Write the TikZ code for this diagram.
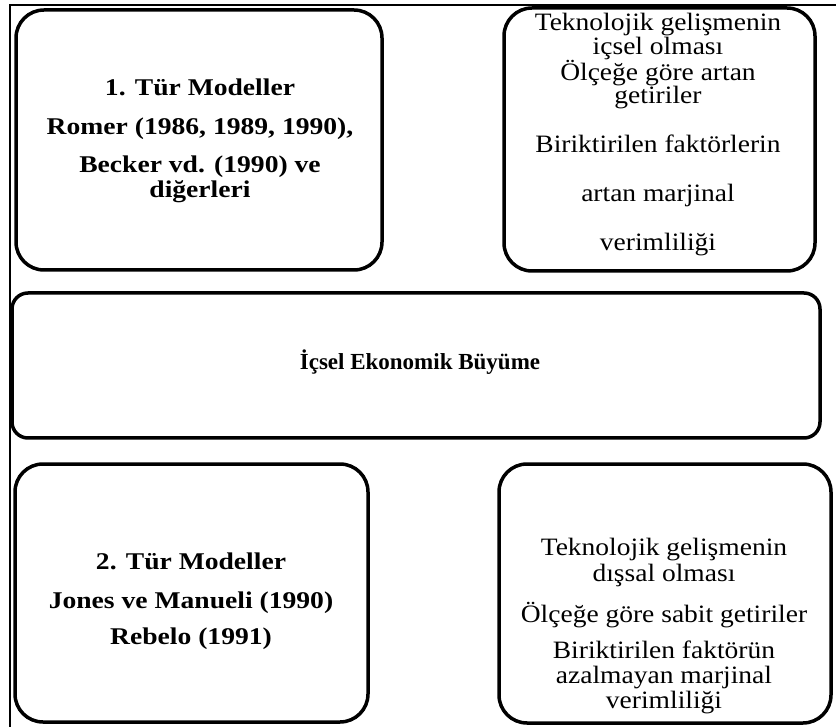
\documentclass[tikz,border=0pt]{standalone}
\usepackage{fontspec}
\newfontfamily\bodyserif{Liberation Serif}[FakeStretch=1.1]
\newfontfamily\headserif{Liberation Serif}[FakeStretch=1.15]
\newfontfamily\midserif{Liberation Serif}[FakeStretch=1.0]

\tikzset{
  frame/.style={line width=2pt, draw=black},
  panel/.style={draw=black, line width=3.5pt, rounded corners=28pt, inner sep=0pt},
  widepanel/.style={panel, rounded corners=16pt},
  % multi-line texts are placed by the baseline of their last line
  headtext/.style={inner sep=0pt, anchor=base, align=center,
    font=\headserif\bfseries\fontsize{24}{25}\selectfont},
  bodytext/.style={inner sep=0pt, anchor=base, align=center,
    font=\bodyserif\fontsize{25}{23}\selectfont},
  midtext/.style={inner sep=0pt, anchor=base, align=center,
    font=\midserif\bfseries\fontsize{23}{24}\selectfont},
}

\begin{document}
\begin{tikzpicture}[x=1pt, y=-1pt]
  \useasboundingbox (0,0) rectangle (836,727);

  % outer frame (left and top edges)
  \draw[frame] (10,727) -- (10,5) -- (836,5);

  % panels
  \node[panel, minimum width=366pt, minimum height=260pt] (typeone) at (199,140) {};
  \node[panel, minimum width=311pt, minimum height=263pt] (typeonefeat) at (659.5,139.5) {};
  \node[widepanel, minimum width=808pt, minimum height=145pt] (growth) at (416,365.5) {};
  \node[panel, minimum width=353pt, minimum height=258pt] (typetwo) at (191.5,593) {};
  \node[panel, minimum width=332pt, minimum height=259pt] (typetwofeat) at (665,593.5) {};

  % texts
  \node[headtext] (typeonetext) at (200,198)
    {1. Tür Modeller\\[14pt]Romer (1986, 1989, 1990),\\[13pt]Becker vd. (1990) ve\\diğerleri};
  \node[bodytext] (typeonefeattext) at (658,251)
    {Teknolojik gelişmenin\\[1pt]içsel olması\\Ölçeğe göre artan\\getiriler\\[26pt]Biriktirilen faktörlerin\\[26pt]artan marjinal\\[26pt]verimliliği};
  \node[midtext] (growthtext) at (420,370) {İçsel Ekonomik Büyüme};
  \node[headtext] (typetwotext) at (191,644)
    {2. Tür Modeller\\[14pt]Jones ve Manueli (1990)\\[11pt]Rebelo (1991)};
  \node[bodytext, font=\bodyserif\fontsize{25}{25}\selectfont] (typetwofeattext) at (664,708)
    {Teknolojik gelişmenin\\[1pt]dışsal olması\\[14pt]Ölçeğe göre sabit getiriler\\[11pt]Biriktirilen faktörün\\azalmayan marjinal\\verimliliği};
\end{tikzpicture}
\end{document}
